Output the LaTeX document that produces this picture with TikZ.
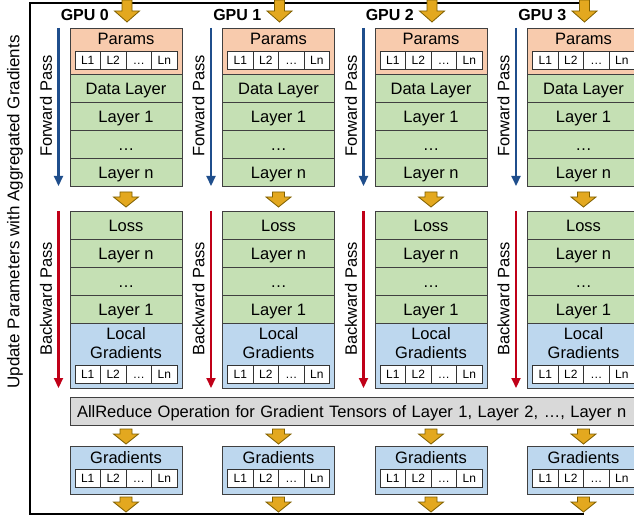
\documentclass[tikz,border=0pt]{standalone}
\usepackage{fontspec}
\setmainfont{Liberation Sans}
\usetikzlibrary{positioning}
\usetikzlibrary{arrows.meta}
\definecolor{paramorange}{HTML}{F8CBAD}
\definecolor{layergreen}{HTML}{C5E0B4}
\definecolor{gradblue}{HTML}{BDD7EE}
\definecolor{reducegray}{HTML}{D9D9D9}
\definecolor{arrowgold}{HTML}{E3A81F}
\definecolor{arrowedge}{HTML}{7F5F00}
\definecolor{fwdblue}{HTML}{1F4E8C}
\definecolor{bwdred}{HTML}{C00018}
\tikzset{
    box/.style={draw=black!75, line width=0.8pt, minimum width=112pt, inner sep=0pt,
        outer sep=0pt, font=\fontsize{16.5}{19}\selectfont},
    layer/.style={box, fill=layergreen, minimum height=28pt, text height=12.5pt, text depth=0pt},
    boxtext/.style={inner sep=0pt, align=center, font=\fontsize{16.5}{19}\selectfont},
    cell/.style={draw=black!80, fill=white, line width=0.8pt, minimum width=25.5pt,
        minimum height=18pt, inner sep=0pt, outer sep=0pt, text height=8.5pt, text depth=0pt,
        font=\fontsize{12}{13}\selectfont},
    passarrow/.style={line width=2.2pt, -{Triangle[length=10pt,width=9pt]}},
    passlabel/.style={rotate=90, inner sep=0pt, font=\fontsize{16.5}{19}\selectfont},
    gpulabel/.style={inner sep=0pt, font=\bfseries\fontsize{16}{19}\selectfont},
    loopline/.style={line width=1.8pt, draw=black},
    goldarrow/.style={fill=arrowgold, draw=arrowedge, line width=0.8pt, line join=miter},
    pics/dropbig/.style={code={
        \draw[goldarrow] (-5,0) -- (5,0) -- (5,11) -- (12.5,11) -- (0,22) -- (-12.5,11) -- (-5,11) -- cycle;}},
    pics/dropsmall/.style={code={
        \draw[goldarrow] (-6,0) -- (6,0) -- (6,5) -- (12.5,5) -- (0,15) -- (-12.5,5) -- (-6,5) -- cycle;}},
}
% four cells L1 L2 ... Ln: prefix, x of the box centre, y
\newcommand{\layercells}[3]{%
    \node[cell] (#1a) at ({#2-38.25},#3) {L1};
    \node[cell, right=0pt of #1a] (#1b) {L2};
    \node[cell, right=0pt of #1b] (#1c) {…};
    \node[cell, right=0pt of #1c] (#1d) {Ln};
}

\begin{document}
\begin{tikzpicture}[x=1pt, y=-1pt]
\useasboundingbox (0,0) rectangle (634,518);
\clip (0,0) rectangle (634,518);

% update loop
\coordinate (upbot) at (583.5,514);
\coordinate (uptop) at (583.5,3);
\draw[loopline] (upbot) -| (30,3) -- (uptop);
\node[passlabel, font=\fontsize{17}{19}\selectfont] (update) at (15,212) {Update Parameters with Aggregated Gradients};

\node[box, fill=reducegray, minimum height=28pt, anchor=north west, text width=586pt,
    align=left, inner xsep=7pt, text height=12.5pt, text depth=0pt] (allreduce) at (70,397)
    {AllReduce Operation for Gradient Tensors of Layer 1, Layer 2, …, Layer n};

\foreach \i in {0,...,3} {
    \pgfmathsetmacro{\c}{126+152.5*\i}
    \node[gpulabel, anchor=east] (gpu\i) at (\c-17,15) {GPU \i};
    \pic at (\c+1,0) {dropbig};
    % forward
    \node[box, fill=paramorange, minimum height=46pt, anchor=north] (params\i) at (\c,28) {};
    \node[boxtext, below=5pt of params\i.north] (ptext\i) {Params};
    \layercells{pc\i}{\c}{60}
    \node[layer, below=0pt of params\i] (data\i) {Data Layer};
    \node[layer, below=0pt of data\i] (fone\i) {Layer 1};
    \node[layer, below=0pt of fone\i] (fdots\i) {…};
    \node[layer, below=0pt of fdots\i] (fn\i) {Layer n};
    \draw[passarrow, fwdblue] ([xshift=-11.5pt]params\i.north west) -- ([xshift=-11.5pt]fn\i.south west);
    \node[passlabel] (fwd\i) at (\c-80,106) {Forward Pass};
    \pic at (\c,192) {dropsmall};
    % backward
    \node[layer, anchor=north] (loss\i) at (\c,211) {Loss};
    \node[layer, below=0pt of loss\i] (bn\i) {Layer n};
    \node[layer, below=0pt of bn\i] (bdots\i) {…};
    \node[layer, below=0pt of bdots\i] (bone\i) {Layer 1};
    \node[box, fill=gradblue, minimum height=65pt, below=0pt of bone\i] (lgrad\i) {};
    \node[boxtext, below=4.5pt of lgrad\i.north] (ltext\i) {Local\\Gradients};
    \layercells{lc\i}{\c}{374}
    \draw[passarrow, bwdred] ([xshift=-11.5pt]loss\i.north west) -- ([xshift=-11.5pt]lgrad\i.south west);
    \node[passlabel] (bwd\i) at (\c-80,299) {Backward Pass};
    % aggregated
    \pic at (\c,429) {dropsmall};
    \node[box, fill=gradblue, minimum height=48pt, anchor=north] (grad\i) at (\c,446) {};
    \node[boxtext, below=5pt of grad\i.north] (gtext\i) {Gradients};
    \layercells{gc\i}{\c}{478.5}
    \pic at (\c,497) {dropsmall};
}
\end{tikzpicture}
\end{document}
